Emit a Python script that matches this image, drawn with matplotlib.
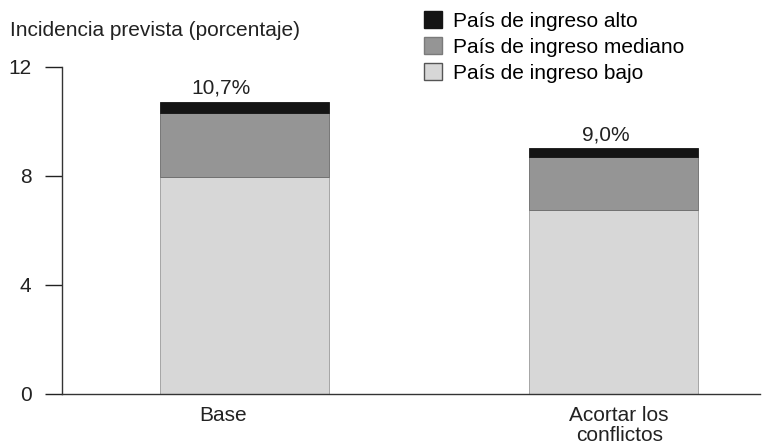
import matplotlib
matplotlib.use("Agg")
import matplotlib.pyplot as plt
from matplotlib.patches import Patch

plt.rcParams['font.family'] = ['Liberation Sans', 'DejaVu Sans']

categories = ["Base", "Acortar los\nconflictos"]
bajo = [7.95, 6.75]
mediano = [2.35, 1.95]
alto = [0.40, 0.30]
totales = [10.7, 9.0]
etiquetas = ["10,7%", "9,0%"]
series_names = ["País de ingreso alto", "País de ingreso mediano", "País de ingreso bajo"]
yticks = [0, 4, 8, 12]

c_alto = "#141414"
c_med = "#959595"
c_bajo = "#d7d7d7"
fs = 15

fig = plt.figure(figsize=(7.62, 4.47), dpi=100)
ax = fig.add_axes([62 / 762, (447 - 393.5) / 447, (760 - 62) / 762, (393.5 - 66.7) / 447])

x = [0, 1]
w = 0.458
ax.bar(x, bajo, width=w, color=c_bajo, edgecolor="#9a9a9a", linewidth=0.6)
bottom2 = bajo
ax.bar(x, mediano, width=w, bottom=bottom2, color=c_med, edgecolor="#6a6a6a", linewidth=0.6)
bottom3 = [a + b for a, b in zip(bajo, mediano)]
ax.bar(x, alto, width=w, bottom=bottom3, color=c_alto, edgecolor=c_alto, linewidth=0.6)

for xi, tot, lab, off in zip(x, totales, etiquetas, [-0.065, -0.02]):
    ax.text(xi + off, tot + 0.16, lab, ha="center", va="bottom", fontsize=fs, color="#222222")

ax.set_xlim(-0.496, 1.397)
ax.set_ylim(0, 12)
ax.set_yticks(yticks)
ax.set_yticklabels([str(t) for t in yticks])
ax.tick_params(axis="y", length=12, width=1, pad=10, labelsize=fs, colors="#222222")
ax.set_xticks([xi + o for xi, o in zip(x, [-0.06, 0.015])])
ax.set_xticklabels(categories, fontsize=fs, linespacing=1.08)
ax.tick_params(axis="x", length=0, pad=9, colors="#222222")

for s in ["top", "right"]:
    ax.spines[s].set_visible(False)
ax.spines["left"].set_linewidth(1.0)
ax.spines["bottom"].set_linewidth(1.0)
ax.spines["left"].set_color("#333333")
ax.spines["bottom"].set_color("#333333")

fig.text(10 / 762, 1 - 31 / 447, "Incidencia prevista (porcentaje)", fontsize=fs,
         va="center", ha="left", color="#222222")

handles = [Patch(facecolor=c_alto, edgecolor=c_alto),
           Patch(facecolor=c_med, edgecolor="#7a7a7a"),
           Patch(facecolor=c_bajo, edgecolor="#555555")]
fig.legend(handles, series_names, loc="upper left", bbox_to_anchor=(424 / 762, 1 - 11 / 447),
           frameon=False, fontsize=fs, handlelength=0.85, handleheight=0.85,
           handletextpad=0.55, labelspacing=0.32, borderaxespad=0, borderpad=0)

fig.savefig("out.png", dpi=100)
